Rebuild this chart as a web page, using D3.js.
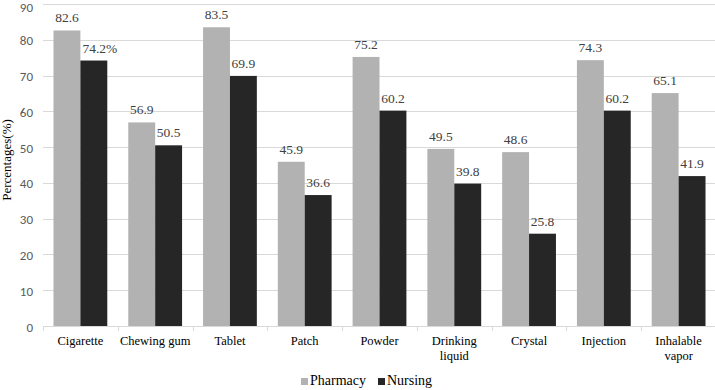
<!DOCTYPE html>
<html><head><meta charset="utf-8">
<script src="https://cdn.jsdelivr.net/npm/d3@7"></script>
<style>body{margin:0;background:#fff;}svg{display:block;}
.serif{font-family:"Liberation Serif","Times New Roman","DejaVu Serif",serif;}
.sans{font-family:Carlito,"Liberation Sans","Open Sans",Arial,sans-serif;}
</style>
</head><body>
<svg id="chart" width="715" height="390"></svg>
<script>
const categories = [["Cigarette"],["Chewing gum"],["Tablet"],["Patch"],["Powder"],["Drinking","liquid"],["Crystal"],["Injection"],["Inhalable","vapor"]];
const pharmacy = [82.6,56.9,83.5,45.9,75.2,49.5,48.6,74.3,65.1];
const nursing = [74.2,50.5,69.9,36.6,60.2,39.8,25.8,60.2,41.9];
const pharmacyLabels = ["82.6","56.9","83.5","45.9","75.2","49.5","48.6","74.3","65.1"];
const nursingLabels = ["74.2%","50.5","69.9","36.6","60.2","39.8","25.8","60.2","41.9"];
const yTicks = [0,10,20,30,40,50,60,70,80,90];
const seriesNames = ["Pharmacy","Nursing"];
const colors = ["#b2b2b3","#262626"];

const svg = d3.select("#chart");
const m = {l:43, r:716, t:4, b:326};
const x = d3.scaleBand().domain(d3.range(categories.length)).range([m.l, m.r]).paddingInner(0).paddingOuter(0);
const y = d3.scaleLinear().domain([0,90]).range([m.b, m.t]);
const x1 = d3.scaleBand().domain([0,1]).range([0, x.bandwidth()]).paddingOuter(0.39).paddingInner(0);

svg.append("g").selectAll("line").data(yTicks.filter(d=>d>0)).join("line")
  .attr("x1", m.l).attr("x2", m.r).attr("y1", d=>Math.round(y(d))+0.5).attr("y2", d=>Math.round(y(d))+0.5)
  .attr("stroke","#d9d9d9").attr("stroke-width",1);

svg.append("g").selectAll("text").data(yTicks).join("text")
  .attr("class","sans")
  .attr("x", 33).attr("y", d=>Math.max(y(d)+1, 7)).attr("dy","0.35em").attr("text-anchor","end")
  .attr("font-size",13).attr("fill","#595959").text(d=>d);

const series = [pharmacy, nursing];
const labels = [pharmacyLabels, nursingLabels];
series.forEach((vals, s) => {
  svg.append("g").selectAll("rect").data(vals).join("rect")
    .attr("x", (d,i)=>x(i)+x1(s)).attr("width", x1.bandwidth())
    .attr("y", d=>y(d)).attr("height", d=>y(0)-y(d)).attr("fill", colors[s]);
  svg.append("g").selectAll("text").data(vals).join("text")
    .attr("class","serif")
    .attr("x", (d,i)=>x(i)+x1(s)+x1.bandwidth()/2 + (s===1 && i===0 ? 6 : 0))
    .attr("y", d=>y(d)-8).attr("text-anchor","middle")
    .attr("font-size",13.5).attr("fill","#404040").text((d,i)=>labels[s][i]);
});

svg.append("line").attr("x1", m.l).attr("x2", m.r).attr("y1", m.b+0.5).attr("y2", m.b+0.5).attr("stroke","#d9d9d9");
svg.append("g").selectAll("line").data(d3.range(categories.length+1)).join("line")
  .attr("x1", i=> i<categories.length ? Math.round(x(i))+0.5 : m.r).attr("x2", i=> i<categories.length ? Math.round(x(i))+0.5 : m.r)
  .attr("y1", m.b).attr("y2", m.b+5).attr("stroke","#d9d9d9");

const cl = svg.append("g").selectAll("text").data(categories).join("text")
  .attr("class","serif")
  .attr("x",(d,i)=>x(i)+x.bandwidth()/2).attr("y", 345).attr("text-anchor","middle")
  .attr("font-size",12.5).attr("fill","#000");
cl.selectAll("tspan").data(d=>d).join("tspan")
  .attr("x", function(){return this.parentNode.getAttribute("x");})
  .attr("dy",(d,i)=> i===0 ? 0 : 15).text(d=>d);

svg.append("text").attr("class","serif").attr("transform","translate(11,160) rotate(-90)").attr("text-anchor","middle")
  .attr("font-size",13).attr("fill","#000").text("Percentages(%)");

const legX = [301, 378];
seriesNames.forEach((n,i)=>{
  svg.append("rect").attr("x", legX[i]).attr("y", 378).attr("width",7).attr("height",7).attr("fill",colors[i]);
  svg.append("text").attr("class","serif").attr("x", legX[i]+9).attr("y", 385)
    .attr("font-size",14).attr("fill","#000").text(n);
});
</script>
</body></html>
